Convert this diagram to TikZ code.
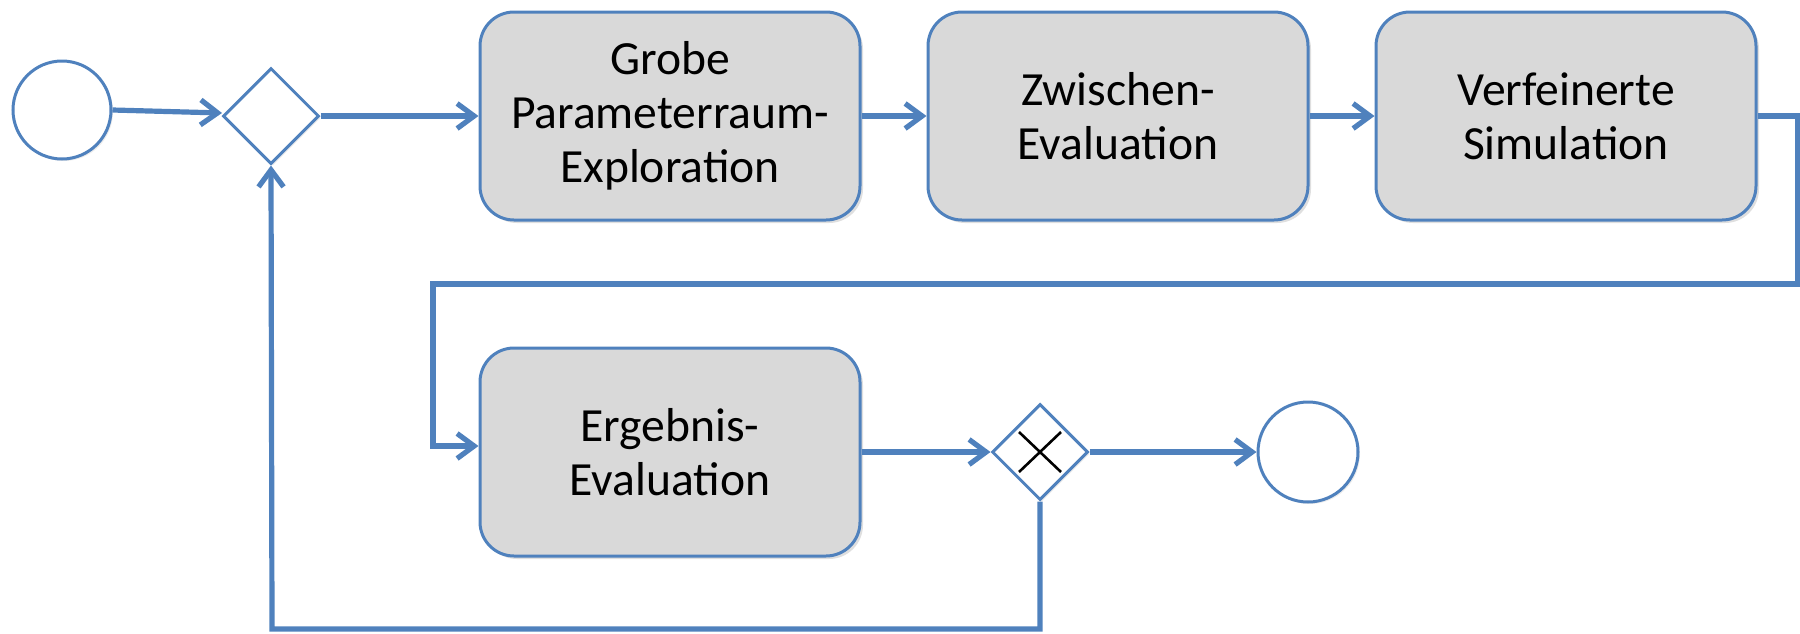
\documentclass[tikz,border=0pt]{standalone}
\usepackage{fontspec}
\setmainfont{Carlito}
\usetikzlibrary{shapes.geometric,arrows.meta,shadows}
\definecolor{bpmnblue}{HTML}{4F81BD}
\definecolor{boxgray}{HTML}{D9D9D9}
\begin{document}
\begin{tikzpicture}[x=0.5pt,y=-0.5pt,
  task/.style={draw=bpmnblue, line width=1.5pt, fill=boxgray, rounded corners=17pt,
    minimum width=190pt, minimum height=104pt, align=center, inner sep=0pt,
    font=\fontsize{23.8}{27}\selectfont,
    drop shadow={opacity=0.25, shadow xshift=1.5pt, shadow yshift=-1.5pt}},
  event/.style={circle, draw=bpmnblue, line width=1.5pt, fill=white, inner sep=0pt,
    drop shadow={opacity=0.15, shadow xshift=1pt, shadow yshift=-1pt}},
  gateway/.style={diamond, aspect=1, draw=bpmnblue, line width=1.5pt, fill=white,
    minimum width=48pt, minimum height=48pt, inner sep=0pt,
    drop shadow={opacity=0.15, shadow xshift=1pt, shadow yshift=-1pt}},
  flow/.style={draw=bpmnblue, line width=2.6pt, -{Straight Barb[length=8.5pt,width=12.5pt]}},
]
\useasboundingbox (0,0) rectangle (1800,633);
\node[event, minimum size=49pt] (start) at (62,110) {};
\node[gateway] (g1) at (271,116) {};
\node[task] (t1) at (670,116) {Grobe\\Parameterraum-\\Exploration};
\node[task] (t2) at (1118,116) {Zwischen-\\Evaluation};
\node[task] (t3) at (1566,116) {Verfeinerte\\Simulation};
\node[task] (t4) at (670,452) {Ergebnis-\\Evaluation};
\node[gateway] (g2) at (1040,452) {};
\node[event, minimum size=50pt] (end) at (1308,452) {};
\draw[line width=1.3pt] ([shift={(-21,-20)}]g2.center) -- ([shift={(21,20)}]g2.center);
\draw[line width=1.3pt] ([shift={(-21,20)}]g2.center) -- ([shift={(21,-20)}]g2.center);

\coordinate (r1) at (1798,116);
\coordinate (r2) at (1798,284);
\coordinate (r3) at (433,284);
\coordinate (r4) at (433,446);
\coordinate (b1) at (1040,629);
\coordinate (b2) at (272,629);
\coordinate (g1in) at (222,113);

\draw[flow] (start.east) -- (g1in);
\draw[flow] (g1.east) -- (t1.west);
\draw[flow] (t1.east) -- (t2.west);
\draw[flow] (t2.east) -- (t3.west);
\draw[flow] (t3.east) -- (r1) -- (r2) -- (r3) -- (r4) -- (r4 -| t4.west);
\draw[flow] (t4.east) -- (g2.west);
\draw[flow] (g2.east) -- (end.west);
\draw[flow] (g2.south) -- (b1) -- (b2) -- (g1.south);
\end{tikzpicture}
\end{document}
